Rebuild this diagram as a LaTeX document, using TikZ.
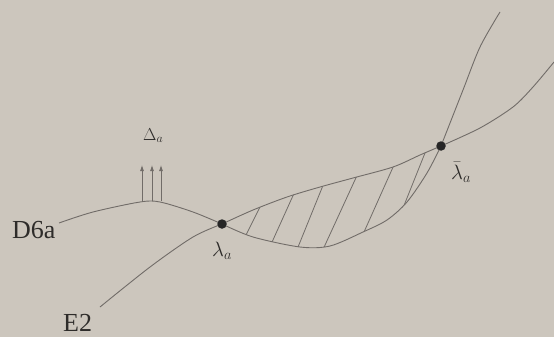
\documentclass[tikz,border=0pt]{standalone}
\usepackage{fontspec}
\setmainfont{Liberation Serif}
\usetikzlibrary{arrows.meta}
\definecolor{bgc}{HTML}{CCC6BD}
\definecolor{linec}{HTML}{716C68}
\definecolor{txtc}{HTML}{2E2C2A}
\tikzset{
  curve/.style={draw=linec, line width=0.9pt},
  hatchline/.style={draw=linec, line width=0.8pt},
  dotnode/.style={circle, fill=black!85, inner sep=0pt, minimum size=9.5pt},
  lbl/.style={text=txtc, inner sep=0pt},
  uparrow/.style={draw=linec, line width=0.8pt, -{Latex[length=6pt,width=4pt]}}
}
\begin{document}
\begin{tikzpicture}[x=1pt,y=-1pt]
\useasboundingbox (0,0) rectangle (554,337);
\fill[bgc] (0,0) rectangle (554,337);
% hatching
\begin{scope}
\clip plot[smooth] coordinates {(222,224) (253,210) (287,197) (320,187) (353,178) (393,167) (420,155) (441,146)}
  -- plot[smooth] coordinates {(441,146) (427,173) (407,202) (387,220) (363,232) (330,246) (300,247) (253,237) (222,224)} -- cycle;
\draw[hatchline] (242,243) -- (265,197);
\draw[hatchline] (268,251) -- (296,189);
\draw[hatchline] (294,257) -- (326,178);
\draw[hatchline] (320,256) -- (360,169);
\draw[hatchline] (360,241) -- (398,156);
\draw[hatchline] (401,213) -- (427,148);
\end{scope}
% D6a curve
\draw[curve] plot[smooth] coordinates {(59,223) (93,212) (140,202) (160,202) (193,212) (222,224)};
\draw[curve] plot[smooth] coordinates {(222,224) (253,237) (300,247) (330,246) (363,232) (387,220) (407,202) (427,173) (441,146)};
\draw[curve] plot[smooth] coordinates {(441,146) (463,90) (480,47) (500,12)};
% E2 curve
\draw[curve] plot[smooth] coordinates {(100,307) (150,267) (193,237) (222,224)};
\draw[curve] plot[smooth] coordinates {(222,224) (253,210) (287,197) (320,187) (353,178) (393,167) (420,155) (441,146)};
\draw[curve] plot[smooth] coordinates {(441,146) (480,128) (513,107) (533,87) (554,62)};
% intersection dots
\node[dotnode] (la) at (222,224) {};
\node[dotnode] (lb) at (441,146) {};
% arrows
\coordinate (a1s) at (142,201); \coordinate (a1e) at (142,165);
\coordinate (a2s) at (152,201); \coordinate (a2e) at (152,165);
\coordinate (a3s) at (161,201); \coordinate (a3e) at (161,165);
\draw[uparrow] (a1s) -- (a1e);
\draw[uparrow] (a2s) -- (a2e);
\draw[uparrow] (a3s) -- (a3e);
% labels
\node[lbl, anchor=base west, font=\fontsize{26}{30}\selectfont] (d6a) at (12,238) {D6a};
\node[lbl, anchor=base west, font=\fontsize{26}{30}\selectfont] (e2) at (63,331) {E2};
\node[lbl, anchor=base west, font=\fontsize{18}{20}\selectfont] (delta) at (143,140) {$\Delta_a$};
\node[lbl, anchor=base west, font=\fontsize{22}{24}\selectfont] (lal) at (212,256) {$\lambda_a$};
\node[lbl, anchor=base west, font=\fontsize{22}{24}\selectfont] (lbl2) at (451,179) {$\bar{\lambda}_a$};
\end{tikzpicture}
\end{document}
